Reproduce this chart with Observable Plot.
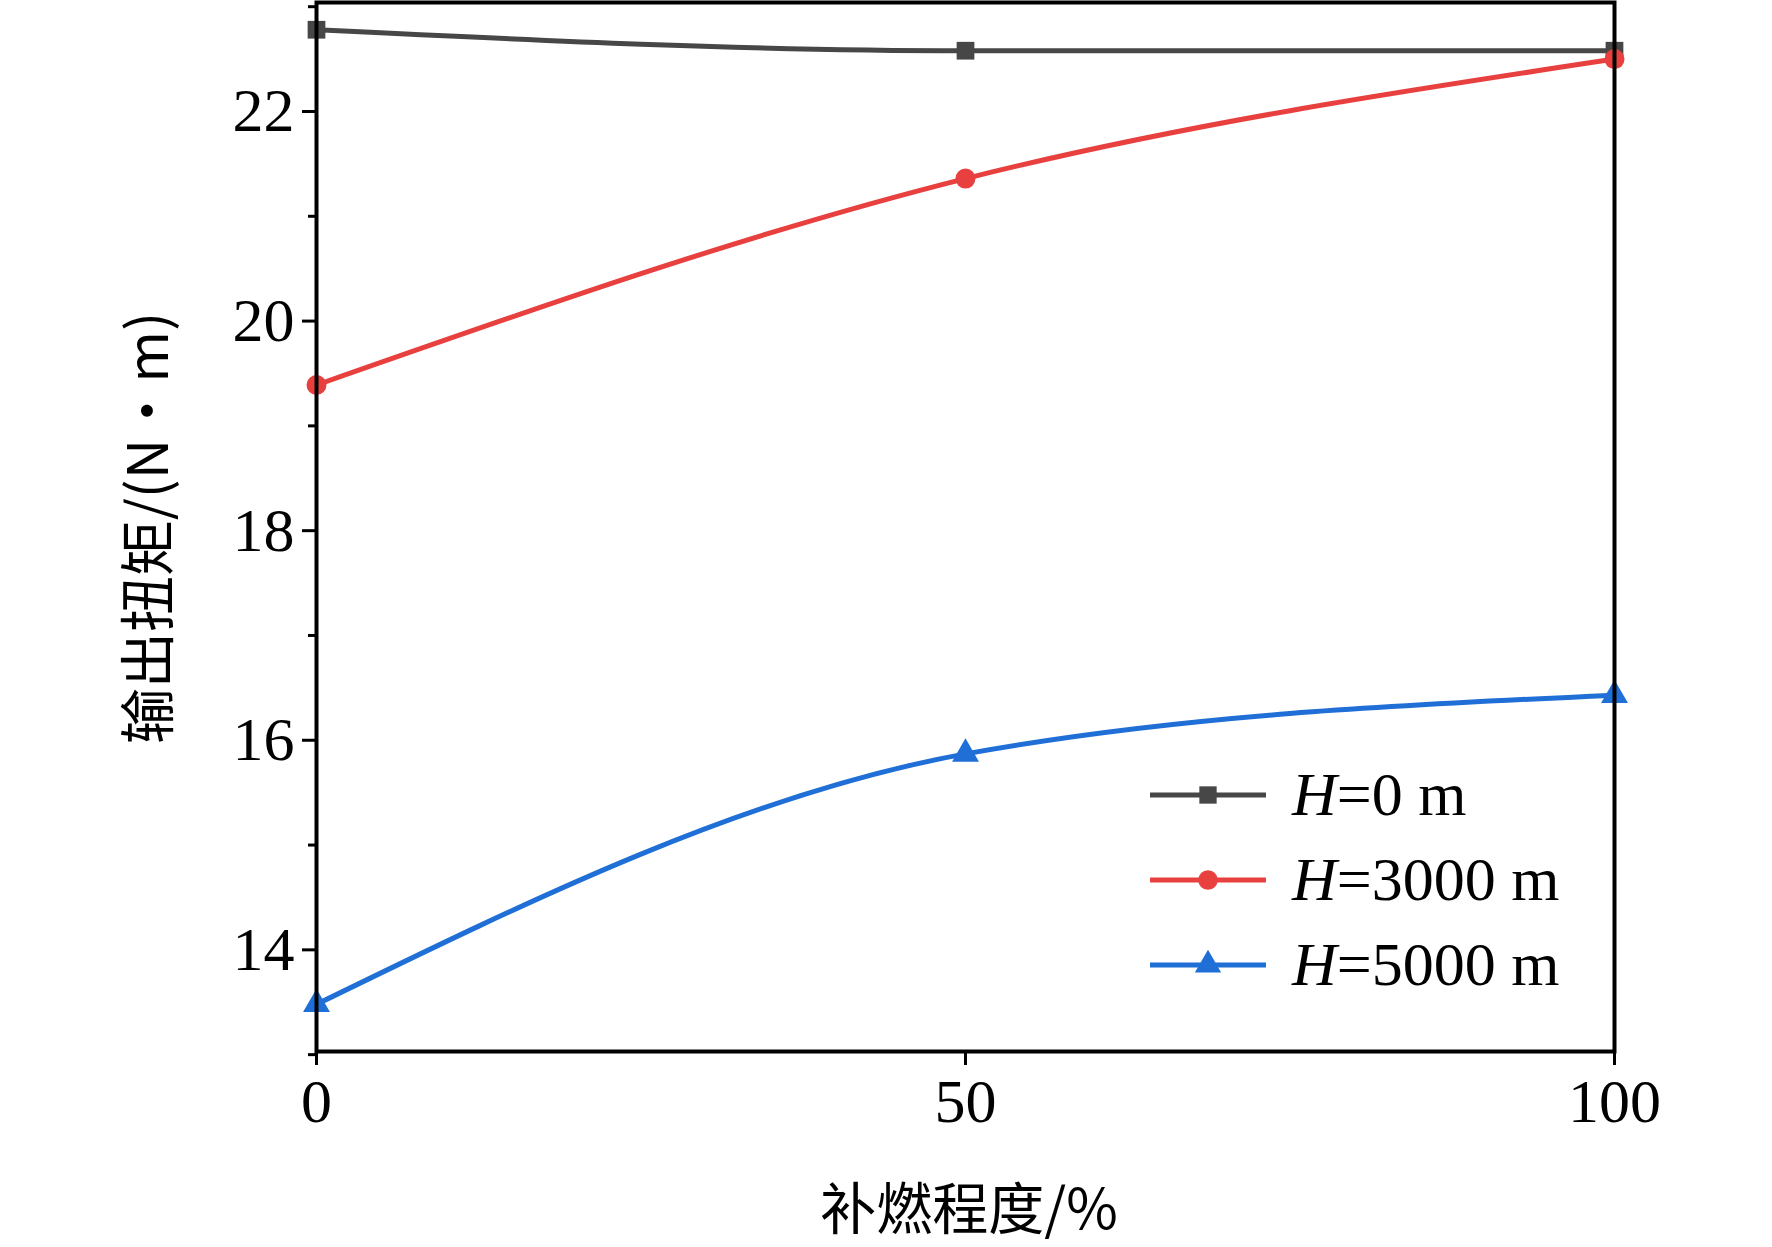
<!DOCTYPE html>
<html><head><meta charset="utf-8">
<script src="https://cdn.jsdelivr.net/npm/d3@7"></script>
<script src="https://cdn.jsdelivr.net/npm/@observablehq/plot@0.6"></script>
<style>
body{margin:0;background:#fff}
#wrap{position:relative;width:1772px;height:1247px;overflow:hidden}
.leg{position:absolute;left:1150px;top:752px;font-family:"Liberation Serif",serif;font-size:62px}
.row{height:85px;display:flex;align-items:center}
.row svg{margin-right:26px}
</style></head><body>
<div id="wrap"></div>
<script>
const xs=[0,50,100];
const seriesNames=["H=0 m","H=3000 m","H=5000 m"];
const h0=[22.78,22.58,22.58];
const h3000=[19.39,21.36,22.50];
const h5000=[13.48,15.87,16.43];
const colors=["#474747","#e8403f","#1f6fd6"];
const symbols=["square","circle","triangle"];
const yTicks=[14,16,18,20,22];
const yMinor=[13,15,17,19,21,23];
const xTicks=[0,50,100];
const all=[h0,h3000,h5000];
const data=[];
all.forEach((arr,i)=>arr.forEach((v,j)=>data.push({s:seriesNames[i],x:xs[j],y:v})));
const chart=Plot.plot({
  width:1772,height:1247,
  marginLeft:316,marginRight:158,marginTop:2,marginBottom:196,
  style:{fontFamily:"Liberation Serif, serif",fontSize:"60px",color:"#000",background:"#fff"},
  x:{domain:[0,100]},
  y:{domain:[13.03,23.04]},
  color:{domain:seriesNames,range:colors},
  symbol:{domain:seriesNames,range:symbols},
  marks:[
    Plot.axisY(yTicks,{tickSize:14,tickPadding:8,strokeWidth:3,fontSize:62,tickFormat:"d",label:null}),
    Plot.axisY(yMinor,{tickSize:8,strokeWidth:3,tickFormat:()=>"" ,label:null}),
    Plot.axisX(xTicks,{tickSize:14,tickPadding:12,strokeWidth:3,fontSize:62,tickFormat:"d",label:null}),
    Plot.line(data,{x:"x",y:"y",stroke:"s",z:"s",strokeWidth:5,curve:"monotone-x"}),
    Plot.dot(data,{x:"x",y:"y",fill:"s",symbol:"s",r:10}),
    Plot.frame({stroke:"#000",strokeWidth:4})
  ]
});
const wrap=document.getElementById("wrap");
wrap.appendChild(chart);
function txt(t,css){const d=document.createElement("div");d.textContent=t;d.style.cssText="position:absolute;font-family:'Noto Sans CJK SC','Liberation Serif',serif;font-size:56px;line-height:1;"+css;wrap.appendChild(d);}
txt("补燃程度/%","left:969px;top:1205px;transform:translate(-50%,-50%);white-space:nowrap");
txt("输出扭矩/(N·m)","left:144px;top:528px;transform:translate(-50%,-50%) rotate(-90deg);white-space:nowrap");
const leg=document.createElement("div");leg.className="leg";
seriesNames.forEach((n,i)=>{
  const r=document.createElement("div");r.className="row";
  const sym=d3.symbol(i==0?d3.symbolSquare:i==1?d3.symbolCircle:d3.symbolTriangle,300)();
  r.innerHTML=`<svg width="116" height="40"><line x1="0" x2="116" y1="20" y2="20" stroke="${colors[i]}" stroke-width="5"/><path d="${sym}" transform="translate(58,20)" fill="${colors[i]}"/></svg><span><i>H</i>=${n.slice(2)}</span>`;
  leg.appendChild(r);
});
wrap.appendChild(leg);
</script></body></html>
